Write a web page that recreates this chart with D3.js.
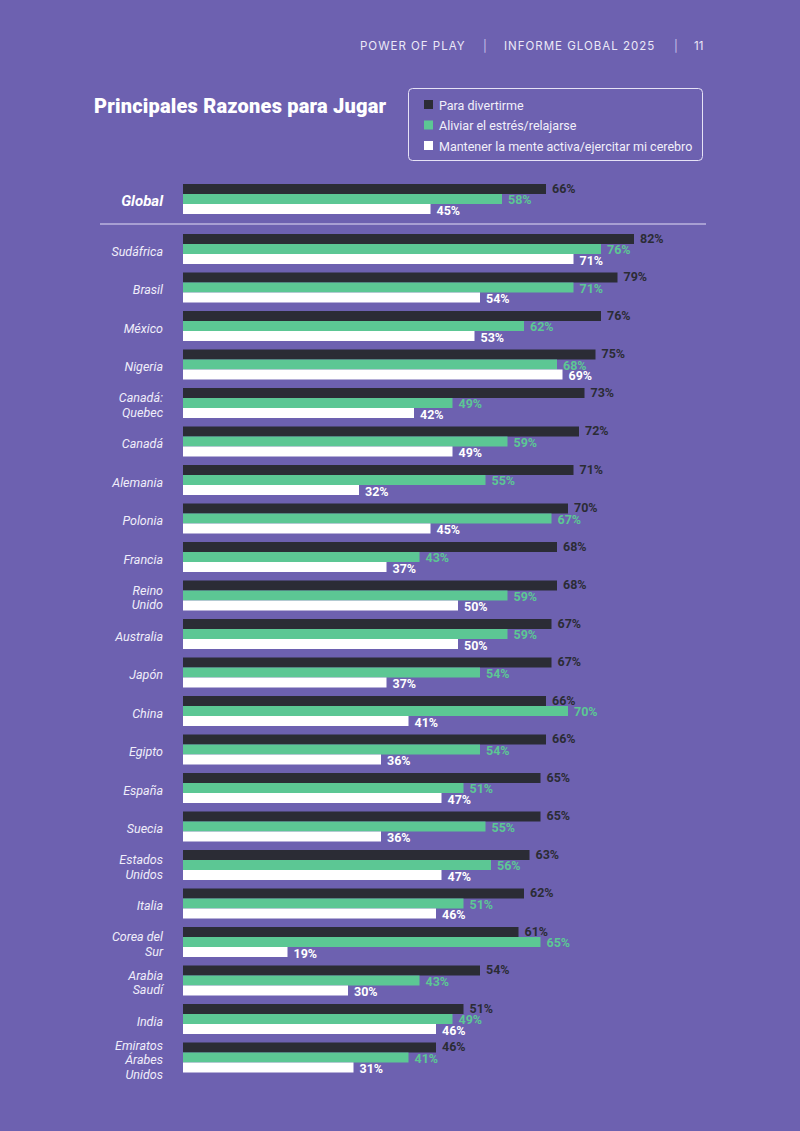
<!DOCTYPE html>
<html>
<head>
<meta charset="utf-8">
<script src="https://cdn.jsdelivr.net/npm/d3@7"></script>
<style>
  html, body { margin: 0; padding: 0; background: #6d61b0; }
  svg { display: block; }
</style>
</head>
<body>
<div id="chart"></div>
<script>
// data
var seriesNames = ["Para divertirme", "Aliviar el estrés/relajarse", "Mantener la mente activa/ejercitar mi cerebro"];
var seriesColors = ["#2b2c35", "#5cc794", "#ffffff"];
var labelColors = ["#2b2c35", "#5cc794", "#ffffff"];

var globalValues = [66, 58, 45];

var countries = ["Sudáfrica", "Brasil", "México", "Nigeria", "Canadá:\nQuebec", "Canadá", "Alemania",
  "Polonia", "Francia", "Reino\nUnido", "Australia", "Japón", "China", "Egipto", "España", "Suecia",
  "Estados\nUnidos", "Italia", "Corea del\nSur", "Arabia\nSaudí", "India", "Emiratos\nÁrabes\nUnidos"];
var divertirme = [82, 79, 76, 75, 73, 72, 71, 70, 68, 68, 67, 67, 66, 66, 65, 65, 63, 62, 61, 54, 51, 46];
var estres     = [76, 71, 62, 68, 49, 59, 55, 67, 43, 59, 59, 54, 70, 54, 51, 55, 56, 51, 65, 43, 49, 41];
var mente      = [71, 54, 53, 69, 42, 49, 32, 45, 37, 50, 50, 37, 41, 36, 47, 36, 47, 46, 19, 30, 46, 31];

var svgWidth = 800;
var svgHeight = 1131;

var svg = d3.select("#chart").append("svg")
            .attr("width", svgWidth)
            .attr("height", svgHeight);

svg.append("rect").attr("width", svgWidth).attr("height", svgHeight).attr("fill", "#6d61b0");

// header
var header = svg.append("g")
                .attr("font-family", "Inter, 'Noto Sans', sans-serif")
                .attr("font-size", "11.5px")
                .attr("fill", "#ebe8f7")
                .attr("letter-spacing", "1px");
header.append("text").attr("x", 360).attr("y", 50).text("POWER OF PLAY");
header.append("text").attr("x", 483).attr("y", 50).attr("fill", "#c9c2ea").text("|");
header.append("text").attr("x", 504).attr("y", 50).text("INFORME GLOBAL 2025");
header.append("text").attr("x", 674).attr("y", 50).attr("fill", "#c9c2ea").text("|");
header.append("text").attr("x", 694).attr("y", 50).attr("letter-spacing", "0px").text("11");

// title
svg.append("text")
   .attr("x", 94)
   .attr("y", 113)
   .attr("font-family", "Roboto, sans-serif")
   .attr("font-weight", "900")
   .attr("font-size", "20px")
   .attr("letter-spacing", "0.2px")
   .attr("fill", "#ffffff")
   .text("Principales Razones para Jugar");

// legend
var legend = svg.append("g");
legend.append("rect")
      .attr("x", 408.5).attr("y", 88.5)
      .attr("width", 294).attr("height", 72)
      .attr("rx", 4)
      .attr("fill", "none")
      .attr("stroke", "#e6e2f6")
      .attr("stroke-width", 1);

var legendItems = legend.selectAll("g.item").data(seriesNames).enter().append("g")
                        .attr("class", "item")
                        .attr("transform", (d, i) => `translate(424, ${105 + i * 20.5})`);
legendItems.append("rect")
           .attr("x", 0).attr("y", -5)
           .attr("width", 9).attr("height", 9)
           .attr("fill", (d, i) => seriesColors[i]);
legendItems.append("text")
           .attr("x", 15).attr("y", 4.5)
           .attr("font-family", "Roboto, sans-serif")
           .attr("font-size", "12.5px")
           .attr("fill", "#f2f0fa")
           .text(d => d);

// scales
var xScale = d3.scaleLinear().domain([0, 100]).range([183, 733]);

var yScale = d3.scaleBand()
               .domain(countries)
               .range([234, 234 + countries.length * 38.5])
               .padding(0);

var seriesScale = d3.scaleBand()
                    .domain(d3.range(seriesNames.length))
                    .range([0, 30]);

var rows = countries.map((c, i) => ({ name: c, values: [divertirme[i], estres[i], mente[i]], top: yScale(c) }));
var globalRow = { name: "Global", values: globalValues, top: 184 };

var labelDy = [8.5, 10, 10.5];

function drawRow(g, row) {
    g.selectAll("rect.bar").data(row.values).enter().append("rect")
     .attr("class", "bar")
     .attr("x", xScale(0))
     .attr("y", (d, i) => row.top + seriesScale(i))
     .attr("width", d => xScale(d) - xScale(0))
     .attr("height", seriesScale.bandwidth())
     .attr("fill", (d, i) => seriesColors[i]);

    g.selectAll("text.val").data(row.values).enter().append("text")
     .attr("class", "val")
     .attr("x", d => xScale(d) + 6)
     .attr("y", (d, i) => row.top + seriesScale(i) + labelDy[i])
     .attr("font-family", "Roboto, sans-serif")
     .attr("font-weight", "bold")
     .attr("font-size", "12.5px")
     .attr("fill", (d, i) => labelColors[i])
     .text(d => d + "%");
}

var chartGroup = svg.append("g");

// Global row
var gGlobal = chartGroup.append("g");
drawRow(gGlobal, globalRow);
gGlobal.append("text")
       .attr("x", 163)
       .attr("y", globalRow.top + 15 + 6.5)
       .attr("text-anchor", "end")
       .attr("font-family", "Roboto, sans-serif")
       .attr("font-weight", "bold")
       .attr("font-style", "italic")
       .attr("font-size", "15px")
       .attr("fill", "#ffffff")
       .text("Global");

// separator
chartGroup.append("line")
          .attr("x1", 100).attr("x2", 706)
          .attr("y1", 224).attr("y2", 224)
          .attr("stroke", "#e3def5")
          .attr("stroke-width", 1);

// countries
rows.forEach(row => {
    var g = chartGroup.append("g");
    drawRow(g, row);
    var lines = row.name.split("\n");
    var center = row.top + 15 + 2;
    g.selectAll("text.cat").data(lines).enter().append("text")
     .attr("class", "cat")
     .attr("x", 163)
     .attr("y", (d, i) => center + (i - (lines.length - 1) / 2) * 14.5 + 4.5)
     .attr("text-anchor", "end")
     .attr("font-family", "Roboto, sans-serif")
     .attr("font-style", "italic")
     .attr("font-size", "12.5px")
     .attr("fill", "#f0eefa")
     .text(d => d);
});
</script>
</body>
</html>
